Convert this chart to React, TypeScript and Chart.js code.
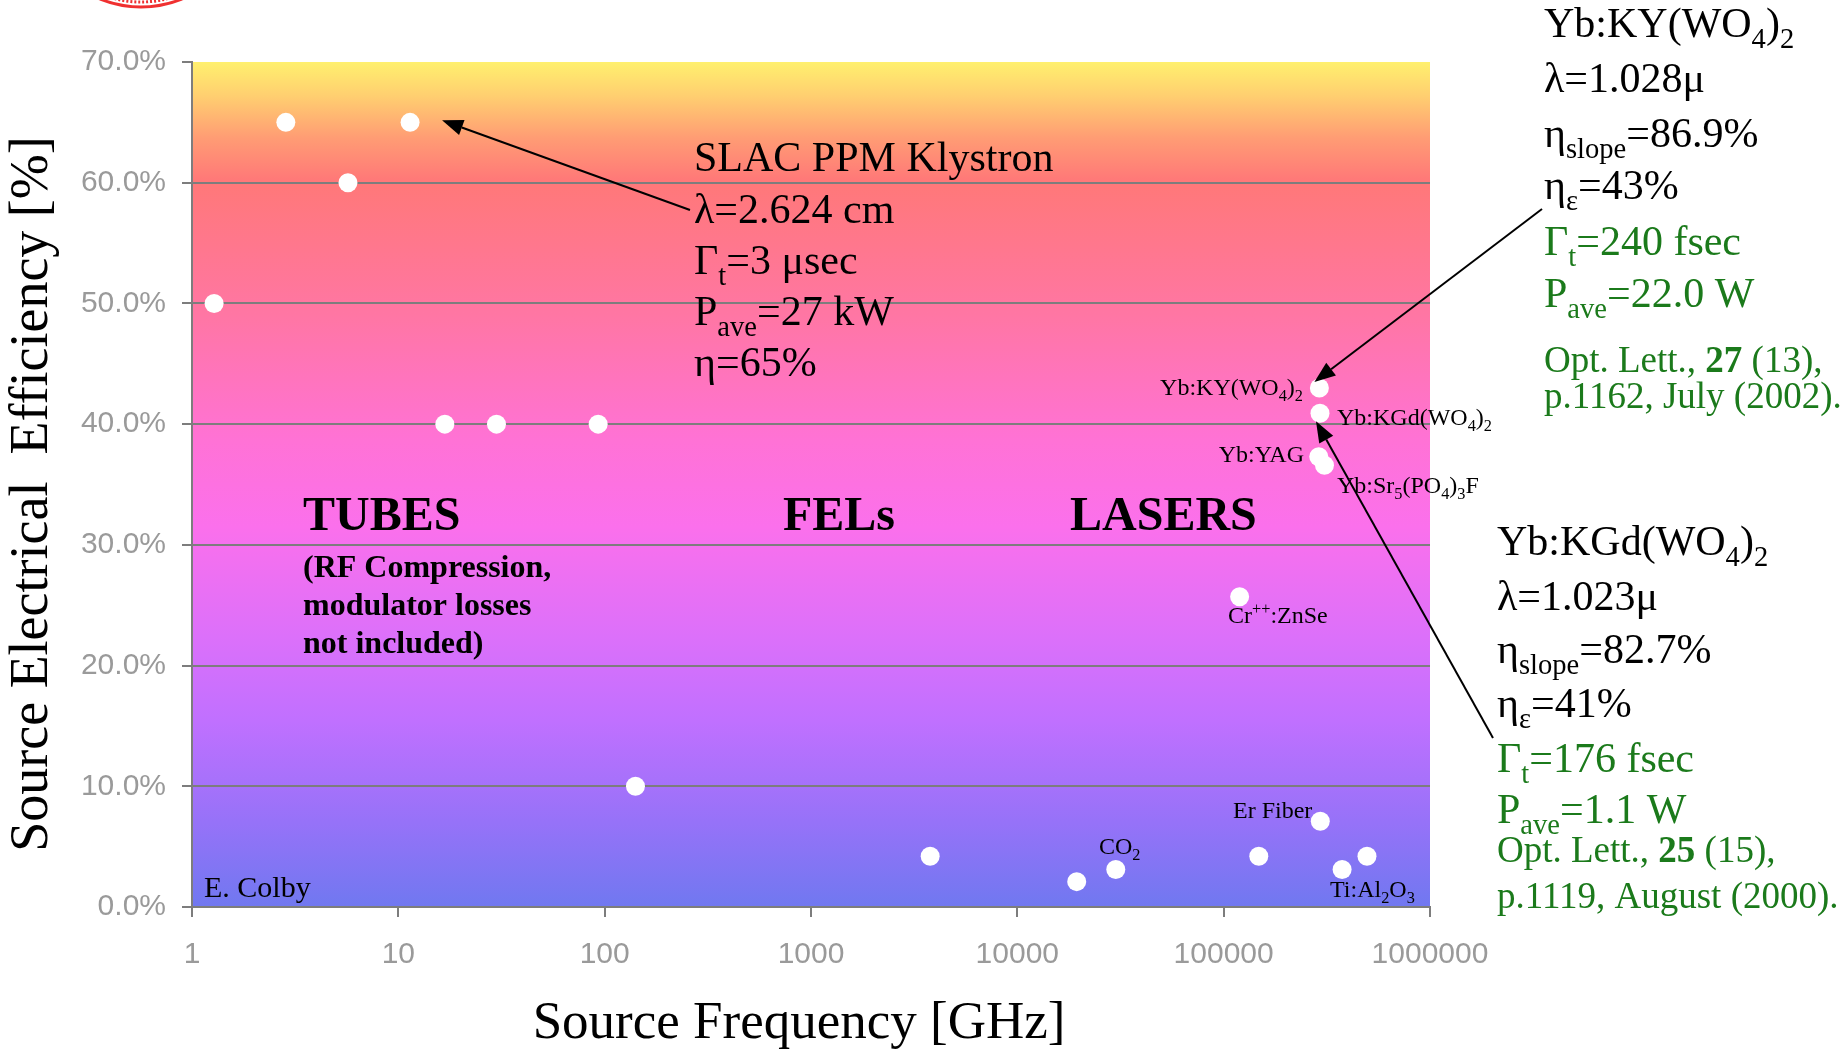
import React, { useEffect, useRef } from 'react';
import { Chart, registerables } from 'chart.js';

Chart.register(...registerables);

// ---------------- data ----------------
const sourceNames = [
  'Tube A', 'Tube B', 'Tube C', 'SLAC PPM Klystron', 'Tube D', 'Tube E', 'Tube F', 'Tube G',
  'FEL', 'CO2 A', 'CO2 B', 'Laser A', 'Er Fiber', 'Ti:Al2O3', 'Laser B',
  'Yb:KY(WO4)2', 'Yb:KGd(WO4)2', 'Yb:YAG', 'Yb:Sr5(PO4)3F', 'Cr++:ZnSe',
];
const frequencyGHz = [
  1.28, 2.85, 5.7, 11.4, 16.8, 29.9, 93, 141,
  3780, 19400, 30000, 148000, 294000, 375000, 495000,
  291000, 293000, 289000, 308000, 119500,
];
const efficiencyPct = [
  50, 65, 60, 65, 40, 40, 40, 10,
  4.2, 2.1, 3.1, 4.2, 7.1, 3.1, 4.2,
  43.0, 40.9, 37.3, 36.6, 25.7,
];
const xTickValues = [1, 10, 100, 1000, 10000, 100000, 1000000];
const yTickValues = [0, 10, 20, 30, 40, 50, 60, 70];
const xAxisTitle = 'Source Frequency [GHz]';
const yAxisTitle = 'Source Electrical  Efficiency [%]';

// indices of points that carry arrows
const SLAC_INDEX = 3;
const KY_INDEX = 15;
const KGD_INDEX = 16;

// ---------------- styling ----------------
const SERIF = '"Liberation Serif", "Times New Roman", Times, serif';
const SANS = '"Liberation Sans", Arial, Helvetica, sans-serif';
const BLACK = '#000000';
const GREEN = '#1b7a1b';
const GRID = '#7d7d7d';
const TICK_TEXT = '#9a9a9a';

type Seg = { t: string; sub?: boolean; sup?: boolean; bold?: boolean };
type TextLine = {
  x: number;
  y: number;
  size: number;
  color: string;
  align?: 'left' | 'right';
  bold?: boolean;
  segs: Seg[];
};

const annotationLines: TextLine[] = [
  // SLAC klystron block
  { x: 694, y: 171, size: 42, color: BLACK, segs: [{ t: 'SLAC PPM Klystron' }] },
  { x: 694, y: 223, size: 42, color: BLACK, segs: [{ t: 'λ=2.624 cm' }] },
  { x: 694, y: 274, size: 42, color: BLACK, segs: [{ t: 'Γ' }, { t: 't', sub: true }, { t: '=3 μsec' }] },
  { x: 694, y: 325, size: 42, color: BLACK, segs: [{ t: 'P' }, { t: 'ave', sub: true }, { t: '=27 kW' }] },
  { x: 694, y: 376, size: 42, color: BLACK, segs: [{ t: 'η=65%' }] },

  // Yb:KY(WO4)2 block
  { x: 1544, y: 37, size: 42, color: BLACK, segs: [{ t: 'Yb:KY(WO' }, { t: '4', sub: true }, { t: ')' }, { t: '2', sub: true }] },
  { x: 1544, y: 92, size: 42, color: BLACK, segs: [{ t: 'λ=1.028μ' }] },
  { x: 1544, y: 147, size: 42, color: BLACK, segs: [{ t: 'η' }, { t: 'slope', sub: true }, { t: '=86.9%' }] },
  { x: 1544, y: 199, size: 42, color: BLACK, segs: [{ t: 'η' }, { t: 'ε', sub: true }, { t: '=43%' }] },
  { x: 1544, y: 255, size: 42, color: GREEN, segs: [{ t: 'Γ' }, { t: 't', sub: true }, { t: '=240 fsec' }] },
  { x: 1544, y: 307, size: 42, color: GREEN, segs: [{ t: 'P' }, { t: 'ave', sub: true }, { t: '=22.0 W' }] },
  { x: 1544, y: 372, size: 37, color: GREEN, segs: [{ t: 'Opt. Lett., ' }, { t: '27', bold: true }, { t: ' (13),' }] },
  { x: 1544, y: 408, size: 37, color: GREEN, segs: [{ t: 'p.1162, July (2002).' }] },

  // Yb:KGd(WO4)2 block
  { x: 1497, y: 555, size: 42, color: BLACK, segs: [{ t: 'Yb:KGd(WO' }, { t: '4', sub: true }, { t: ')' }, { t: '2', sub: true }] },
  { x: 1497, y: 610, size: 42, color: BLACK, segs: [{ t: 'λ=1.023μ' }] },
  { x: 1497, y: 663, size: 42, color: BLACK, segs: [{ t: 'η' }, { t: 'slope', sub: true }, { t: '=82.7%' }] },
  { x: 1497, y: 717, size: 42, color: BLACK, segs: [{ t: 'η' }, { t: 'ε', sub: true }, { t: '=41%' }] },
  { x: 1497, y: 772, size: 42, color: GREEN, segs: [{ t: 'Γ' }, { t: 't', sub: true }, { t: '=176 fsec' }] },
  { x: 1497, y: 823, size: 42, color: GREEN, segs: [{ t: 'P' }, { t: 'ave', sub: true }, { t: '=1.1 W' }] },
  { x: 1497, y: 862, size: 37, color: GREEN, segs: [{ t: 'Opt. Lett., ' }, { t: '25', bold: true }, { t: ' (15),' }] },
  { x: 1497, y: 908, size: 37, color: GREEN, segs: [{ t: 'p.1119, August (2000).' }] },

  // region labels
  { x: 303, y: 530, size: 48, color: BLACK, bold: true, segs: [{ t: 'TUBES' }] },
  { x: 303, y: 577, size: 32, color: BLACK, bold: true, segs: [{ t: '(RF Compression,' }] },
  { x: 303, y: 615, size: 32, color: BLACK, bold: true, segs: [{ t: 'modulator losses' }] },
  { x: 303, y: 653, size: 32, color: BLACK, bold: true, segs: [{ t: 'not included)' }] },
  { x: 783, y: 530, size: 48, color: BLACK, bold: true, segs: [{ t: 'FELs' }] },
  { x: 1070, y: 530, size: 48, color: BLACK, bold: true, segs: [{ t: 'LASERS' }] },

  // point labels
  { x: 1303, y: 395, size: 24, color: BLACK, align: 'right', segs: [{ t: 'Yb:KY(WO' }, { t: '4', sub: true }, { t: ')' }, { t: '2', sub: true }] },
  { x: 1337, y: 425, size: 24, color: BLACK, segs: [{ t: 'Yb:KGd(WO' }, { t: '4', sub: true }, { t: ')' }, { t: '2', sub: true }] },
  { x: 1304, y: 462, size: 24, color: BLACK, align: 'right', segs: [{ t: 'Yb:YAG' }] },
  { x: 1337, y: 493, size: 24, color: BLACK, segs: [{ t: 'Yb:Sr' }, { t: '5', sub: true }, { t: '(PO' }, { t: '4', sub: true }, { t: ')' }, { t: '3', sub: true }, { t: 'F' }] },
  { x: 1228, y: 623, size: 24, color: BLACK, segs: [{ t: 'Cr' }, { t: '++', sup: true }, { t: ':ZnSe' }] },
  { x: 1233, y: 818, size: 24, color: BLACK, segs: [{ t: 'Er Fiber' }] },
  { x: 1099, y: 854, size: 24, color: BLACK, segs: [{ t: 'CO' }, { t: '2', sub: true }] },
  { x: 1330, y: 897, size: 24, color: BLACK, segs: [{ t: 'Ti:Al' }, { t: '2', sub: true }, { t: 'O' }, { t: '3', sub: true }] },
  { x: 204, y: 897, size: 30, color: BLACK, segs: [{ t: 'E. Colby' }] },
];

function segFont(seg: Seg, line: TextLine) {
  const small = seg.sub || seg.sup;
  const size = small ? line.size * 0.68 : line.size;
  const bold = seg.bold || line.bold;
  return `${bold ? 'bold ' : ''}${size}px ${SERIF}`;
}

function drawLine(ctx: CanvasRenderingContext2D, line: TextLine) {
  ctx.save();
  ctx.textBaseline = 'alphabetic';
  ctx.textAlign = 'left';
  ctx.fillStyle = line.color;
  let total = 0;
  for (const s of line.segs) {
    ctx.font = segFont(s, line);
    total += ctx.measureText(s.t).width;
  }
  let cx = line.align === 'right' ? line.x - total : line.x;
  for (const s of line.segs) {
    ctx.font = segFont(s, line);
    const dy = s.sub ? line.size * 0.25 : s.sup ? -line.size * 0.36 : 0;
    ctx.fillText(s.t, cx, line.y + dy);
    cx += ctx.measureText(s.t).width;
  }
  ctx.restore();
}

function drawArrow(ctx: CanvasRenderingContext2D, x1: number, y1: number, x2: number, y2: number) {
  const ang = Math.atan2(y2 - y1, x2 - x1);
  const headLen = 21;
  const headHalf = 8;
  const bx = x2 - headLen * Math.cos(ang);
  const by = y2 - headLen * Math.sin(ang);
  ctx.save();
  ctx.strokeStyle = '#000';
  ctx.fillStyle = '#000';
  ctx.lineWidth = 2;
  ctx.beginPath();
  ctx.moveTo(x1, y1);
  ctx.lineTo(bx, by);
  ctx.stroke();
  ctx.beginPath();
  ctx.moveTo(x2, y2);
  ctx.lineTo(bx + headHalf * Math.sin(ang), by - headHalf * Math.cos(ang));
  ctx.lineTo(bx - headHalf * Math.sin(ang), by + headHalf * Math.cos(ang));
  ctx.closePath();
  ctx.fill();
  ctx.restore();
}

const backgroundPlugin = {
  id: 'gradientBackground',
  beforeDraw(chart: any) {
    const { ctx, chartArea: a } = chart;
    const g = ctx.createLinearGradient(0, a.top, 0, a.bottom);
    g.addColorStop(0.0, '#fff06e');
    g.addColorStop(0.04, '#ffcf70');
    g.addColorStop(0.09, '#ff9c74');
    g.addColorStop(0.14, '#ff7878');
    g.addColorStop(0.3, '#ff76a4');
    g.addColorStop(0.45, '#ff72d6');
    g.addColorStop(0.55, '#fb70ec');
    g.addColorStop(0.68, '#dc70fa');
    g.addColorStop(0.78, '#c070ff');
    g.addColorStop(0.9, '#9672f8');
    g.addColorStop(1.0, '#7078f0');
    ctx.save();
    ctx.fillStyle = g;
    ctx.fillRect(a.left, a.top, a.right - a.left, a.bottom - a.top);
    // partially visible red seal at the top-left
    ctx.strokeStyle = '#f03030';
    ctx.lineWidth = 3;
    ctx.beginPath();
    ctx.arc(141, -102, 109, 0, Math.PI * 2);
    ctx.stroke();
    ctx.setLineDash([2, 2]);
    ctx.lineWidth = 3;
    ctx.beginPath();
    ctx.arc(141, -102, 104, 0, Math.PI * 2);
    ctx.stroke();
    ctx.restore();
  },
};

const annotationPlugin = {
  id: 'annotations',
  afterDatasetsDraw(chart: any) {
    const { ctx } = chart;
    const xs = chart.scales.x;
    const ys = chart.scales.y;
    const pt = (i: number) => [xs.getPixelForValue(frequencyGHz[i]), ys.getPixelForValue(efficiencyPct[i])];

    const [sx, sy] = pt(SLAC_INDEX);
    drawArrow(ctx, 690, 210, sx + 32, sy - 2);
    const [kx, ky] = pt(KY_INDEX);
    drawArrow(ctx, 1542, 209, kx - 5, ky - 6);
    const [gx, gy] = pt(KGD_INDEX);
    drawArrow(ctx, 1493, 738, gx - 4, gy + 8);

    for (const line of annotationLines) drawLine(ctx, line);

    // axis titles
    ctx.save();
    ctx.fillStyle = BLACK;
    ctx.textAlign = 'center';
    ctx.textBaseline = 'middle';
    ctx.font = `53px ${SERIF}`;
    ctx.fillText(xAxisTitle, 799, 1024);
    ctx.translate(33, 494);
    ctx.rotate(-Math.PI / 2);
    ctx.font = `54px ${SERIF}`;
    ctx.fillText(yAxisTitle, 0, 0);
    ctx.restore();
  },
};

export default function App() {
  const canvasRef = useRef<HTMLCanvasElement | null>(null);

  useEffect(() => {
    document.body.style.margin = '0';
    const canvas = canvasRef.current;
    if (!canvas) return;
    const chart = new Chart(canvas, {
      type: 'scatter',
      data: {
        datasets: [
          {
            label: 'Sources',
            data: frequencyGHz.map((x, i) => ({ x, y: efficiencyPct[i] })),
            pointRadius: 9.5,
            pointHoverRadius: 9.5,
            pointBackgroundColor: '#ffffff',
            pointBorderWidth: 0,
            pointBorderColor: '#ffffff',
            showLine: false,
          },
        ],
      },
      options: {
        responsive: false,
        animation: false,
        devicePixelRatio: 1,
        layout: { padding: { top: 62, right: 416, left: 0, bottom: 0 } },
        plugins: {
          legend: { display: false },
          tooltip: { enabled: false },
        },
        scales: {
          x: {
            type: 'logarithmic',
            min: 1,
            max: 1000000,
            position: 'bottom',
            afterBuildTicks: (s: any) => {
              s.ticks = xTickValues.map((v) => ({ value: v }));
            },
            afterFit: (s: any) => {
              s.height = 142;
            },
            grid: {
              drawOnChartArea: false,
              drawTicks: true,
              tickLength: 10,
              color: GRID,
              tickColor: GRID,
              lineWidth: 2,
            },
            border: { display: true, color: GRID, width: 2 },
            ticks: {
              autoSkip: false,
              maxRotation: 0,
              padding: 20,
              color: TICK_TEXT,
              font: { family: SANS, size: 30 },
              callback: (v: any) => String(v),
            },
            title: { display: false, text: xAxisTitle },
          },
          y: {
            min: 0,
            max: 70,
            afterBuildTicks: (s: any) => {
              s.ticks = yTickValues.map((v) => ({ value: v }));
            },
            afterFit: (s: any) => {
              s.width = 192;
            },
            grid: {
              color: (c: any) => (c.tick && c.tick.value === 70 ? 'rgba(0,0,0,0)' : GRID),
              tickColor: GRID,
              lineWidth: 2,
              tickLength: 10,
              drawTicks: true,
            },
            border: { display: true, color: GRID, width: 2 },
            ticks: {
              padding: 16,
              color: TICK_TEXT,
              font: { family: SANS, size: 30 },
              callback: (v: any) => Number(v).toFixed(1) + '%',
            },
            title: { display: false, text: yAxisTitle },
          },
        },
      } as any,
      plugins: [backgroundPlugin, annotationPlugin],
    });
    return () => chart.destroy();
  }, []);

  return (
    <div style={{ position: 'absolute', left: 0, top: 0, width: 1846, height: 1049, background: '#ffffff' }}>
      <canvas ref={canvasRef} width={1846} height={1049} style={{ display: 'block', width: 1846, height: 1049 }} />
    </div>
  );
}
